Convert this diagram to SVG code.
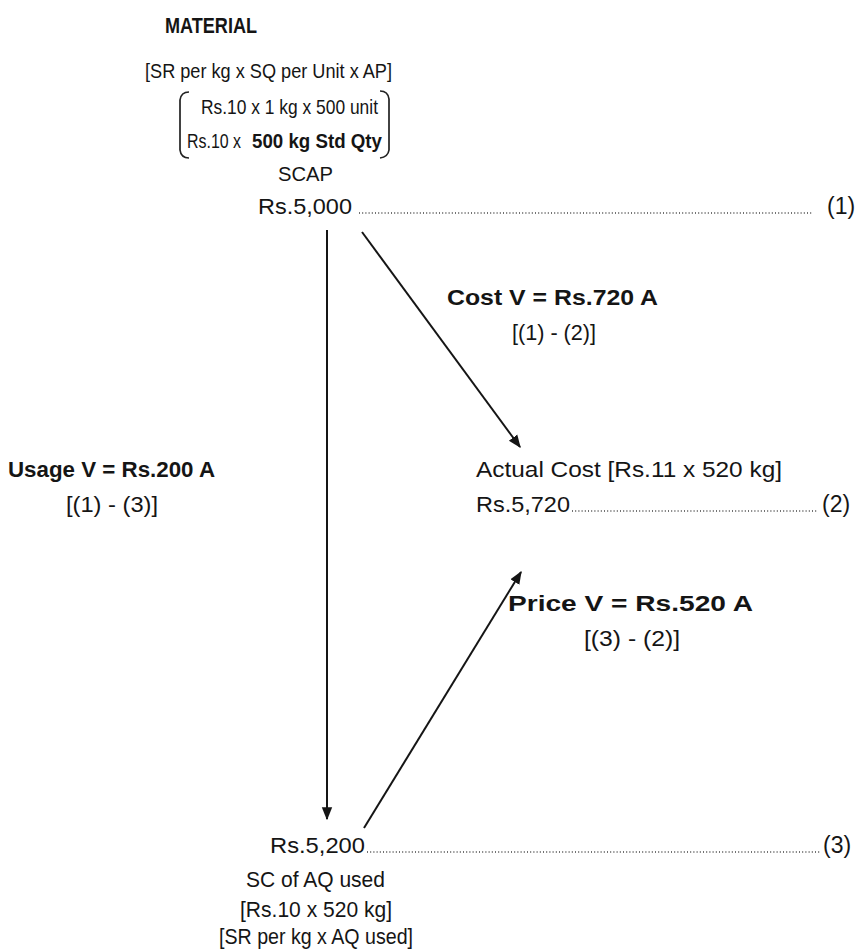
<svg xmlns="http://www.w3.org/2000/svg" width="867" height="949" viewBox="0 0 867 949">
  <defs>
    <style>
      text { font-family: "Liberation Sans", Arial, sans-serif; font-size: 22px; fill: #151515; }
      .s { font-size: 21px; }
      .n { font-size: 23px; }
      .b { font-weight: bold; }
      .dots { stroke: #444; stroke-width: 1.3; stroke-dasharray: 1 2.2; fill: none; }
      .edge { stroke: #151515; stroke-width: 2; fill: none; }
      .brk { stroke: #222; stroke-width: 1.7; fill: none; }
    </style>
    <marker id="arrow" viewBox="0 0 10 10" refX="9" refY="5" markerWidth="13" markerHeight="13" orient="auto" markerUnits="userSpaceOnUse">
      <path d="M0,1 L10,5 L0,9 Z" fill="#151515"/>
    </marker>
  </defs>

  <rect width="867" height="949" fill="#fff"/>

  <!-- standard cost of actual production -->
  <g id="scap">
    <text class="b" x="165" y="33" textLength="92" lengthAdjust="spacingAndGlyphs">MATERIAL</text>
    <text class="s" x="145" y="78" textLength="247" lengthAdjust="spacingAndGlyphs">[SR per kg x SQ per Unit x AP]</text>
    <path class="brk" d="M189,92 Q181,92 180,100 L180,150 Q181,158 189,158"/>
    <path class="brk" d="M380,91 Q388,91 389,99 L389,150 Q388,157 380,158"/>
    <text class="s" x="201" y="114" textLength="177" lengthAdjust="spacingAndGlyphs">Rs.10 x 1 kg x 500 unit</text>
    <text class="s" x="187" y="148" textLength="54" lengthAdjust="spacingAndGlyphs">Rs.10 x</text>
    <text class="s b" x="252" y="148" textLength="130" lengthAdjust="spacingAndGlyphs">500 kg Std Qty</text>
    <text class="s" x="278" y="181" textLength="55" lengthAdjust="spacingAndGlyphs">SCAP</text>
    <text x="258" y="214" textLength="94" lengthAdjust="spacingAndGlyphs">Rs.5,000</text>
    <line class="dots" x1="359" y1="213" x2="813" y2="213"/>
    <text class="n" x="827" y="214">(1)</text>
  </g>

  <!-- actual cost -->
  <g id="actual">
    <text x="476" y="477" textLength="306" lengthAdjust="spacingAndGlyphs">Actual Cost [Rs.11 x 520 kg]</text>
    <text x="476" y="512" textLength="94" lengthAdjust="spacingAndGlyphs">Rs.5,720</text>
    <line class="dots" x1="572" y1="511" x2="818" y2="511"/>
    <text class="n" x="822" y="512">(2)</text>
  </g>

  <!-- standard cost of actual quantity used -->
  <g id="scaq">
    <text x="270" y="853" textLength="95" lengthAdjust="spacingAndGlyphs">Rs.5,200</text>
    <line class="dots" x1="367" y1="852" x2="821" y2="852"/>
    <text class="n" x="823" y="853">(3)</text>
    <text x="246" y="887" textLength="139" lengthAdjust="spacingAndGlyphs">SC of AQ used</text>
    <text x="240" y="917" textLength="152" lengthAdjust="spacingAndGlyphs">[Rs.10 x 520 kg]</text>
    <text x="219" y="944" textLength="194" lengthAdjust="spacingAndGlyphs">[SR per kg x AQ used]</text>
  </g>

  <!-- variance labels -->
  <g id="cost-variance">
    <text class="b" x="447" y="305" textLength="211" lengthAdjust="spacingAndGlyphs">Cost V = Rs.720 A</text>
    <text x="512" y="340" textLength="84" lengthAdjust="spacingAndGlyphs">[(1) - (2)]</text>
  </g>
  <g id="usage-variance">
    <text class="b" x="8" y="477" textLength="207" lengthAdjust="spacingAndGlyphs">Usage V = Rs.200 A</text>
    <text x="66" y="512" textLength="92" lengthAdjust="spacingAndGlyphs">[(1) - (3)]</text>
  </g>
  <g id="price-variance">
    <text class="b" x="508" y="611" textLength="245" lengthAdjust="spacingAndGlyphs">Price V = Rs.520 A</text>
    <text x="584" y="646" textLength="96" lengthAdjust="spacingAndGlyphs">[(3) - (2)]</text>
  </g>

  <!-- connectors -->
  <g id="connectors">
    <line class="edge" x1="327" y1="230" x2="327" y2="819" marker-end="url(#arrow)"/>
    <line class="edge" x1="362" y1="232" x2="520" y2="447" marker-end="url(#arrow)"/>
    <line class="edge" x1="364" y1="828" x2="521" y2="572" marker-end="url(#arrow)"/>
  </g>
</svg>
